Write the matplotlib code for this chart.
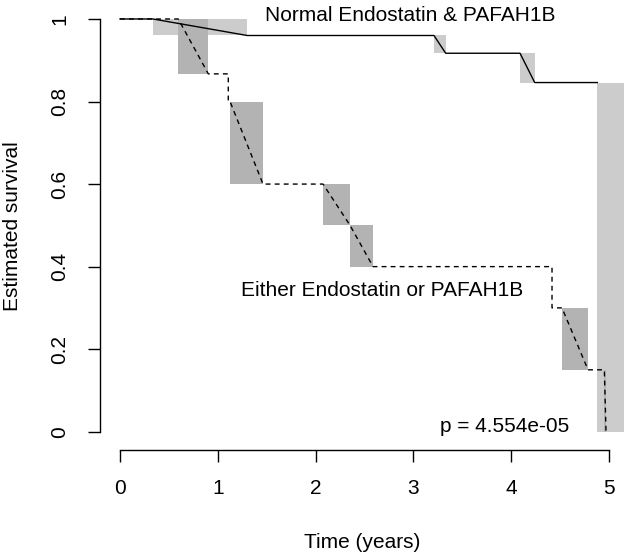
import numpy as np
import matplotlib
matplotlib.use('Agg')
import matplotlib.pyplot as plt
from matplotlib.patches import Rectangle

plt.rcParams['font.family'] = ['Liberation Sans', 'DejaVu Sans']

# Turnbull intervals (left, right) and survival after each drop
# group 1: normal Endostatin & PAFAH1B
left1 = [0.337, 3.21, 4.09, 4.88]
right1 = [1.30, 3.33, 4.24, np.inf]
surv1 = [0.96, 0.917, 0.846, 0.0]

# group 2: either Endostatin or PAFAH1B
left2 = [0.596, 1.107, 1.125, 2.076, 2.352, 4.417, 4.519, 4.952]
right2 = [0.903, 1.107, 1.462, 2.352, 2.587, 4.417, 4.785, 4.969]
surv2 = [0.867, 0.80, 0.60, 0.50, 0.40, 0.30, 0.15, 0.0]

x_ticks = [0, 1, 2, 3, 4, 5]
y_ticks = [0, 0.2, 0.4, 0.6, 0.8, 1]
y_ticklabels = ['0', '0.2', '0.4', '0.6', '0.8', '1']

p_text = 'p = 4.554e-05'

X_LO, X_HI = -0.2045, 5.153
Y_LO, Y_HI = -0.0443, 1.046


def step_path(left, right, surv):
    xs, ys = [0.0], [1.0]
    prev = 1.0
    for l, r, s in zip(left, right, surv):
        xs.append(l)
        ys.append(prev)
        if np.isinf(r):
            break
        xs.append(r)
        ys.append(s)
        prev = s
    return xs, ys


def shade(ax, left, right, surv, color):
    prev = 1.0
    for l, r, s in zip(left, right, surv):
        r = min(r, X_HI + 1)
        ax.add_patch(Rectangle((l, s), r - l, prev - s, facecolor=color,
                               edgecolor='none', zorder=1))
        prev = s


fig = plt.figure(figsize=(6.24, 5.53), dpi=100)
ax = fig.add_axes([100 / 624, 103 / 553, 524 / 624, 450 / 553])

shade(ax, left1, right1, surv1, '#CCCCCC')
shade(ax, left2, right2, surv2, '#B3B3B3')

x1, y1 = step_path(left1, right1, surv1)
x2, y2 = step_path(left2, right2, surv2)
ax.plot(x1, y1, color='black', lw=1.0, zorder=3)
ax.plot(x2, y2, color='black', lw=1.0, linestyle=(0, (3.5, 3)), zorder=3)

ax.text(2.970, 0.996, 'Normal Endostatin & PAFAH1B', ha='center',
        va='baseline', fontsize=15)
ax.text(2.684, 0.330, 'Either Endostatin or PAFAH1B', ha='center',
        va='baseline', fontsize=15)
ax.text(3.937, 0.0, p_text, ha='center', va='baseline', fontsize=15)

ax.set_xlim(X_LO, X_HI)
ax.set_ylim(Y_LO, Y_HI)
for side in ['top', 'right']:
    ax.spines[side].set_visible(False)
ax.spines['left'].set_bounds(0, 1)
ax.spines['bottom'].set_bounds(0, 5)
for side in ['left', 'bottom']:
    ax.spines[side].set_linewidth(1.0)

ax.set_xticks(x_ticks)
ax.set_xticklabels([str(v) for v in x_ticks], fontsize=15)
ax.set_yticks(y_ticks)
ax.set_yticklabels(y_ticklabels, fontsize=15, rotation=90, va='center')
ax.tick_params(axis='both', length=8.6, width=1.0, direction='out')
ax.tick_params(axis='x', pad=12.5)
ax.tick_params(axis='y', pad=13.5)

fig.text(362 / 624, 5 / 553, 'Time (years)', ha='center', va='baseline',
         fontsize=15)
fig.text(13 / 624, 1 - 226 / 553, 'Estimated survival', ha='center',
         va='center', rotation=90, fontsize=15)

fig.savefig('out.png', dpi=100)
